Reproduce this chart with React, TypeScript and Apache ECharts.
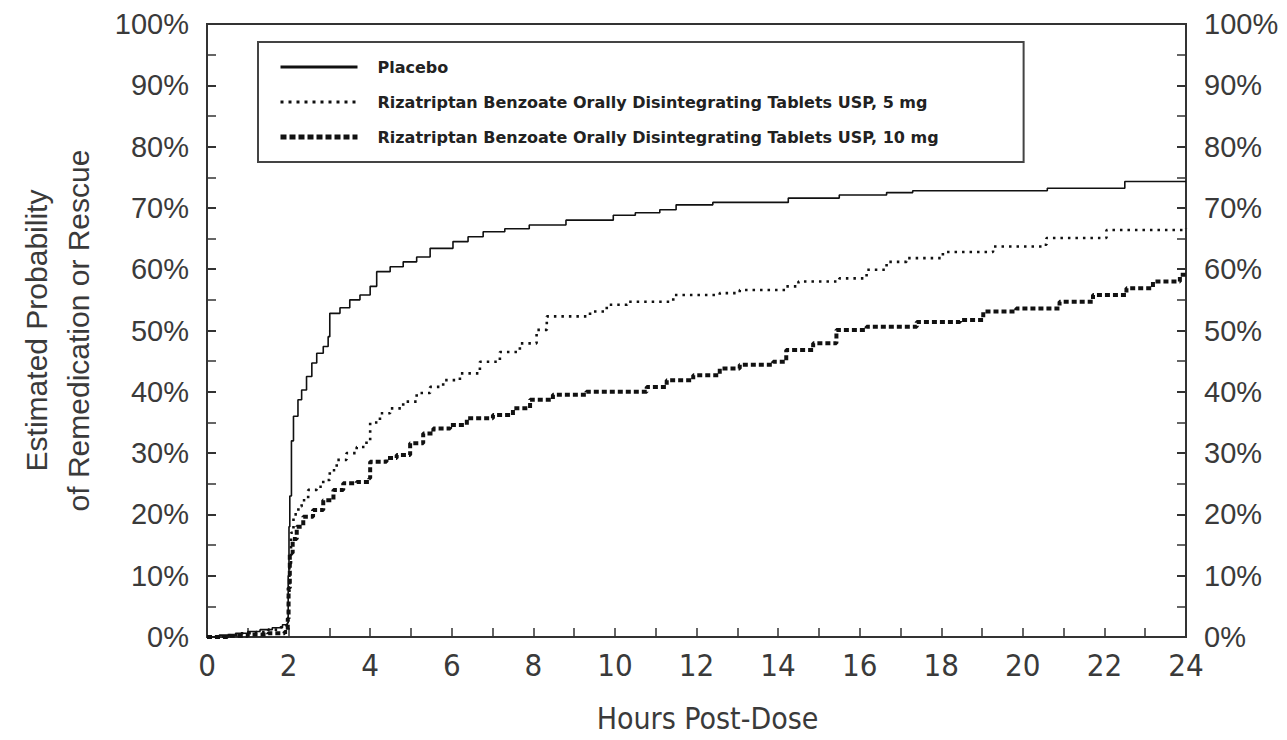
import React, { useEffect, useRef } from "react";
import * as echarts from "echarts";

const xTicks = [0, 2, 4, 6, 8, 10, 12, 14, 16, 18, 20, 22, 24];
const yTicks = [0, 10, 20, 30, 40, 50, 60, 70, 80, 90, 100];

const seriesNames = [
  "Placebo",
  "Rizatriptan Benzoate Orally Disintegrating Tablets USP, 5 mg",
  "Rizatriptan Benzoate Orally Disintegrating Tablets USP, 10 mg",
];

const placeboT = [0, 0.3, 0.7, 1.0, 1.3, 1.6, 1.85, 1.97, 1.99, 2.01, 2.03, 2.07, 2.12, 2.23, 2.32, 2.44, 2.57, 2.69, 2.85, 2.97, 3.01, 3.26, 3.5, 3.75, 4.0, 4.16, 4.49, 4.81, 5.14, 5.47, 6.03, 6.4, 6.77, 7.3, 7.9, 8.8, 9.96, 10.5, 11.1, 11.5, 12.4, 14.25, 15.5, 16.66, 17.3, 20.6, 22.5, 24];
const placeboV = [0, 0.3, 0.6, 0.9, 1.2, 1.5, 2.0, 2.3, 10, 18, 23, 32, 36, 38.7, 40.3, 42.5, 44.7, 46.3, 47.4, 49, 52.8, 53.7, 55, 55.8, 57.2, 59.6, 60.4, 61.2, 62, 63.4, 64.5, 65.3, 66.1, 66.6, 67.2, 68.0, 68.8, 69.2, 69.7, 70.5, 70.9, 71.6, 72.1, 72.5, 72.8, 73.2, 74.3, 74.3];

const mg5T = [0, 0.4, 0.8, 1.2, 1.5, 1.8, 1.95, 1.99, 2.02, 2.06, 2.12, 2.24, 2.32, 2.48, 2.69, 2.85, 3.01, 3.18, 3.42, 3.67, 3.91, 4.0, 4.24, 4.49, 4.81, 5.14, 5.47, 5.79, 6.2, 6.69, 7.18, 7.67, 8.08, 8.33, 8.98, 9.39, 9.8, 10.3, 11.43, 12.57, 13.06, 14.2, 14.5, 15.5, 16.17, 16.66, 17.15, 18.04, 19.27, 20.5, 20.58, 22.05, 24];
const mg5V = [0, 0.3, 0.6, 0.8, 1.2, 1.6, 2.0, 6.6, 12, 17, 20, 21.3, 22.3, 24, 24.5, 25.6, 27.2, 28.9, 30, 31, 32.1, 35.0, 36.5, 37.3, 38.4, 39.8, 40.8, 41.9, 43, 44.9, 46.5, 47.9, 50.1, 52.3, 52.3, 53.1, 54.2, 54.7, 55.8, 56.1, 56.6, 57.2, 58, 58.5, 59.9, 61.2, 61.8, 62.8, 63.7, 64, 65.1, 66.4, 66.7];

const mg10T = [0, 0.5, 1.0, 1.5, 1.9, 1.98, 2.0, 2.03, 2.1, 2.2, 2.36, 2.6, 2.85, 3.1, 3.34, 3.67, 3.98, 4.0, 4.4, 4.65, 4.98, 5.3, 5.55, 5.96, 6.37, 7.01, 7.5, 7.92, 8.48, 9.3, 10.3, 10.78, 11.27, 11.92, 12.57, 13.06, 13.88, 14.2, 14.86, 15.43, 16.17, 17.4, 18.46, 19.03, 19.84, 20.9, 21.72, 22.54, 23.19, 23.85, 24];
const mg10V = [0, 0.2, 0.4, 0.6, 0.8, 3, 8, 13.7, 16, 18, 19.6, 20.7, 22.3, 24, 25.1, 25.3, 25.9, 28.6, 29.2, 29.7, 31.6, 33.2, 34.0, 34.6, 35.7, 36.2, 37.3, 38.7, 39.5, 40, 40, 40.8, 41.9, 42.7, 43.8, 44.4, 44.9, 46.8, 47.9, 50.1, 50.6, 51.4, 51.7, 53.1, 53.6, 54.7, 55.8, 56.9, 58, 59.1, 59.5];

const zip = (t: number[], v: number[]) => t.map((x, i) => [x, v[i]]);

const axisColor = "#333";
const labelColor = "#3a3a3a";
const narrow = "'Liberation Sans Narrow', 'DejaVu Sans Condensed', 'Arial Narrow', 'Liberation Sans', sans-serif";
const sans = "'Liberation Sans', Arial, Helvetica, sans-serif";

export default function App() {
  const ref = useRef<HTMLDivElement>(null);
  useEffect(() => {
    if (!ref.current) return;
    const chart = echarts.init(ref.current, undefined, { renderer: "svg" });
    const yAxisBase = (pos: "left" | "right") => ({
      type: "value",
      position: pos,
      min: yTicks[0],
      max: yTicks[yTicks.length - 1],
      interval: yTicks[1] - yTicks[0],
      axisLine: { show: true, lineStyle: { color: axisColor, width: 2 } },
      axisTick: { show: true, inside: true, length: 9, lineStyle: { color: axisColor, width: 2 } },
      minorTick: { show: true, splitNumber: 2, length: 9, lineStyle: { color: axisColor, width: 1.5 } },
      splitLine: { show: false },
      axisLabel: {
        show: true,
        formatter: "{value}%",
        fontSize: 29,
        color: labelColor,
        fontFamily: sans,
        margin: 18,
      },
    });
    chart.setOption({
      animation: false,
      backgroundColor: "#fff",
      grid: {
        left: 207,
        right: 101,
        top: 24,
        bottom: 103,
        containLabel: false,
        outerBoundsMode: "none",
        show: true,
        borderColor: axisColor,
        borderWidth: 2,
        backgroundColor: "transparent",
      },
      legend: {
        show: true,
        left: 258,
        top: 42,
        orient: "vertical",
        itemWidth: 77,
        itemHeight: 16,
        itemGap: 19,
        borderColor: "#444",
        borderWidth: 2,
        borderRadius: 0,
        padding: [17, 85, 17, 20],
        itemStyle: { opacity: 0 },
        textStyle: {
          fontSize: 16,
          fontWeight: "bold",
          color: "#222",
          fontFamily: "'DejaVu Sans', Verdana, sans-serif",
          padding: [0, 0, 0, 15],
        },
        data: [
          { name: seriesNames[0], lineStyle: { width: 3, type: "solid" } },
          { name: seriesNames[1], lineStyle: { width: 3, type: [3, 5] } },
          { name: seriesNames[2], lineStyle: { width: 5, type: [6, 3] } },
        ],
      },
      xAxis: {
        type: "value",
        min: xTicks[0],
        max: xTicks[xTicks.length - 1],
        interval: xTicks[1] - xTicks[0],
        name: "Hours Post-Dose",
        nameLocation: "middle",
        nameGap: 66,
        nameTextStyle: { fontSize: 30, color: labelColor, fontFamily: narrow, padding: [0, 0, 0, 22] },
        axisLine: { show: true, lineStyle: { color: axisColor, width: 2 } },
        axisTick: { show: true, inside: true, length: 9, lineStyle: { color: axisColor, width: 1.5 } },
        minorTick: { show: true, splitNumber: 2, length: 9, lineStyle: { color: axisColor, width: 1.5 } },
        splitLine: { show: false },
        axisLabel: { fontSize: 31, color: labelColor, fontFamily: narrow, margin: 12 },
      },
      yAxis: [
        {
          ...yAxisBase("left"),
          name: "Estimated Probability\nof Remedication or Rescue",
          nameLocation: "middle",
          nameGap: 108,
          nameRotate: 90,
          nameTextStyle: { fontSize: 30, color: labelColor, fontFamily: sans, lineHeight: 42, align: "center" },
        },
        { ...yAxisBase("right") },
      ],
      series: [
        {
          name: seriesNames[0],
          type: "line",
          step: "end",
          symbol: "none",
          data: zip(placeboT, placeboV),
          lineStyle: { color: "#111", width: 1.6, type: "solid" },
          itemStyle: { color: "#111" },
        },
        {
          name: seriesNames[1],
          type: "line",
          step: "end",
          symbol: "none",
          data: zip(mg5T, mg5V),
          lineStyle: { color: "#111", width: 2.6, type: [2.5, 5] },
          itemStyle: { color: "#111" },
        },
        {
          name: seriesNames[2],
          type: "line",
          step: "end",
          symbol: "none",
          data: zip(mg10T, mg10V),
          lineStyle: { color: "#111", width: 4, type: [5, 3] },
          itemStyle: { color: "#111" },
        },
      ],
    });
    return () => chart.dispose();
  }, []);
  return (
    <div
      ref={ref}
      style={{ position: "fixed", left: 0, top: 0, width: 1287, height: 740, background: "#fff" }}
    />
  );
}
